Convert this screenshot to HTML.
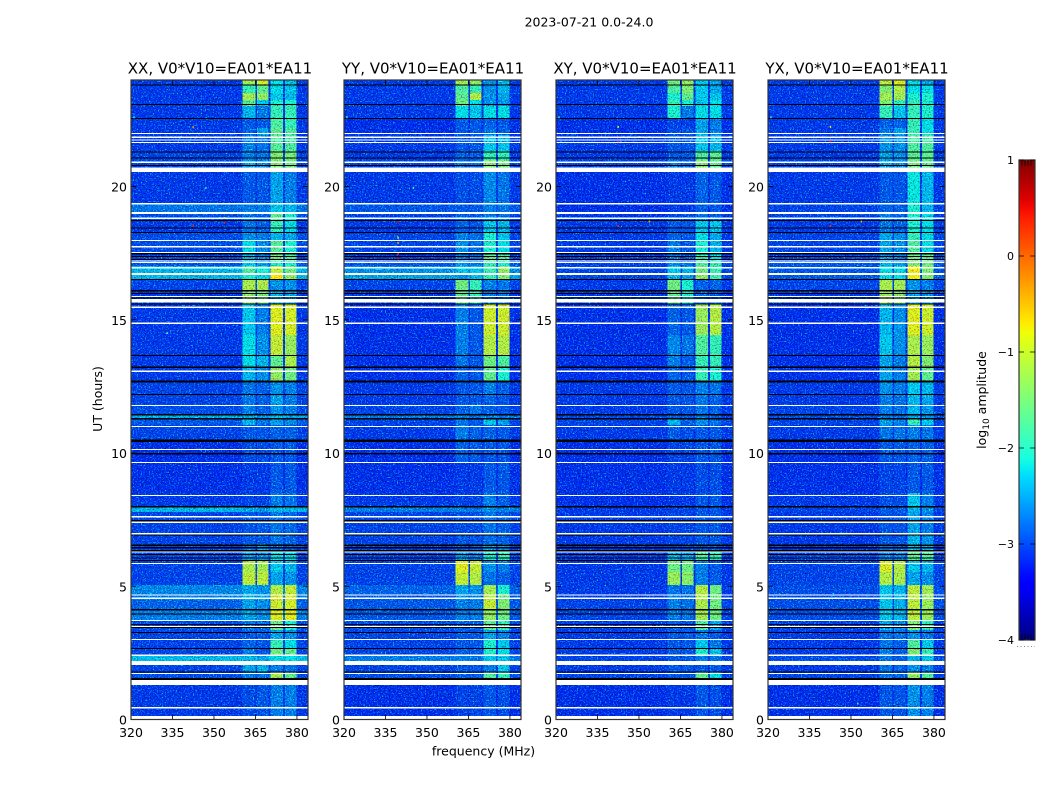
<!DOCTYPE html>
<html lang="en">
<head>
<meta charset="utf-8">
<title>2023-07-21 0.0-24.0</title>
<style>
html,body{margin:0;padding:0;background:#fff;}
body{width:1050px;height:800px;overflow:hidden;}
svg{display:block;}
text{font-family:"DejaVu Sans","Liberation Sans",sans-serif;fill:#000;}
</style>
</head>
<body>
<svg id="chart" xmlns="http://www.w3.org/2000/svg" width="1050" height="800" viewBox="0 0 1050 800">
<defs>
<filter id="speckle" x="0" y="0" width="1" height="1" color-interpolation-filters="sRGB">
<feTurbulence type="fractalNoise" baseFrequency="0.75" numOctaves="2" seed="4" result="t"/>
<feColorMatrix in="t" type="matrix" values="0 0 0 0 0  2.8 0 0 0 -1.5  0 0 0 0 0  0 0 0 0 1" result="up"/>
<feColorMatrix in="t" type="matrix" values="0 0 0 0 1  0 -2 0 0 2  0 -2 0 0 2  0 0 0 0 1" result="down"/>
<feComposite in="SourceGraphic" in2="up" operator="arithmetic" k1="0" k2="1" k3="1" k4="0" result="a"/>
<feComposite in="a" in2="down" operator="arithmetic" k1="1" k2="0" k3="0" k4="0"/>
</filter>
<linearGradient id="jet-gradient" x1="0" y1="1" x2="0" y2="0"></linearGradient>
</defs>
<rect width="1050" height="800" fill="#fff"/>
<text x="589" y="26.500" font-size="12.500" text-anchor="middle">2023-07-21 0.0-24.0</text>
<text x="220" y="73.500" font-size="15" text-anchor="middle">XX, V0*V10=EA01*EA11</text>
<text x="433" y="73.500" font-size="15" text-anchor="middle">YY, V0*V10=EA01*EA11</text>
<text x="645" y="73.500" font-size="15" text-anchor="middle">XY, V0*V10=EA01*EA11</text>
<text x="857" y="73.500" font-size="15" text-anchor="middle">YX, V0*V10=EA01*EA11</text>
<text x="0" y="0" font-size="12.500" text-anchor="middle" transform="translate(102 399) rotate(-90)">UT (hours)</text>
<text x="483.500" y="755.500" font-size="12.500" text-anchor="middle">frequency (MHz)</text>
<text x="0" y="0" font-size="12.500" text-anchor="middle" transform="translate(986 400) rotate(-90)">log<tspan font-size="9" dy="3">10</tspan><tspan dy="-3"> amplitude</tspan></text>
<g id="panels"></g>
<g id="colorbar"></g>
</svg>
<script>
// ---- axis tick data ----
const freqTicks = [320, 335, 350, 365, 380];
const hourTicks = [0, 5, 10, 15, 20];
const colorbarTicks = [1, 0, -1, -2, -3, -4];
const colorbarTickLabels = ['1', '0', '\u22121', '\u22122', '\u22123', '\u22124'];
const colorbarMinorValues = [-3.9, -3.8, -3.7, -3.6, 0.6, 0.7, 0.8, 0.9];

// ---- frequency columns: background, four RFI bands with gaps (MHz) ----
const channelEdges = [320, 360.4, 365.1, 365.5, 369.8, 370.5, 374.9, 375.6, 379.9, 384];
const channelLevelColumn = [0, 1, 0, 2, 0, 3, 0, 4, 0];

// ---- time segments: top hour of each segment (last one is the end hour) ----
const segmentHours = [24.00,23.81,23.51,23.25,23.02,22.57,22.20,21.93,21.33,21.00,20.54,19.38,19.01,18.74,18.29,17.99,17.54,17.20,17.02,16.72,16.53,16.12,15.59,14.43,13.68,13.23,12.70,12.14,11.84,11.46,11.27,11.05,10.49,9.62,8.50,7.97,7.79,7.00,6.59,6.32,5.98,5.53,5.05,4.71,4.48,4.11,3.73,3.36,2.98,2.68,2.42,2.20,1.78,1.56,0.14];

// ---- log10 amplitude per segment: [background, band A, band B, band C, band D] ----
const xxLevels = [
[-3.15,-1.3,-1.0,-2.25,-2.4],[-3.15,-1.95,-1.7,-2.25,-2.4],[-3.15,-1.3,-1.4,-2.4,-2.5],[-3.15,-1.7,-2.4,-2.1,-2.1],[-3.15,-2.5,-2.8,-1.95,-1.95],[-3.15,-3.0,-3.0,-1.8,-1.95],
[-3.15,-2.95,-2.6,-1.7,-1.8],[-3.15,-2.8,-2.85,-1.75,-1.8],[-3.1,-2.8,-2.85,-1.5,-1.55],[-3.1,-2.6,-2.7,-1.5,-1.6],[-3.15,-3.0,-3.0,-2.6,-2.8],[-2.85,-2.8,-2.8,-2.4,-2.5],
[-3.05,-2.85,-2.95,-1.7,-2.1],[-3.15,-2.85,-2.95,-1.95,-2.25],[-3.05,-2.7,-2.8,-2.5,-2.6],[-3.05,-2.25,-2.7,-1.75,-2.1],[-3.1,-2.5,-2.8,-1.6,-1.8],[-3.0,-2.4,-2.6,-2.1,-2.1],
[-2.5,-1.8,-2.1,-1.1,-1.6],[-2.5,-2.1,-2.25,-0.75,-1.4],[-3.1,-1.25,-1.25,-2.7,-2.7],[-3.15,-1.45,-1.55,-2.5,-2.6],[-3.15,-2.4,-2.8,-0.95,-1.0],[-3.15,-2.25,-2.7,-1.1,-1.35],
[-3.15,-2.25,-2.5,-1.7,-1.25],[-3.15,-2.5,-2.7,-1.4,-1.6],[-3.1,-2.85,-2.95,-2.7,-2.8],[-3.1,-2.85,-2.95,-2.6,-2.8],[-3.05,-2.8,-2.95,-2.7,-2.8],[-2.55,-2.6,-2.7,-2.5,-2.6],
[-3.0,-2.5,-2.85,-2.6,-2.7],[-3.1,-3.0,-3.0,-2.95,-2.95],[-3.2,-3.05,-3.05,-3.0,-3.0],[-3.2,-3.15,-3.15,-3.0,-3.0],[-3.15,-3.1,-3.1,-2.8,-2.85],[-2.5,-2.6,-2.7,-2.5,-2.5],
[-3.1,-3.0,-3.0,-2.85,-2.9],[-3.1,-3.0,-3.0,-2.85,-2.95],[-3.1,-2.85,-2.6,-2.85,-2.95],[-3.1,-2.7,-2.7,-2.25,-2.25],[-3.1,-1.25,-1.3,-2.4,-2.5],[-3.1,-1.15,-1.15,-2.6,-2.7],
[-2.75,-2.6,-2.7,-1.2,-1.1],[-2.8,-2.5,-2.6,-1.0,-1.0],[-2.95,-2.6,-2.7,-1.05,-1.0],[-2.8,-2.6,-2.7,-0.95,-0.9],[-3.05,-2.8,-2.85,-1.6,-2.1],[-3.1,-3.0,-3.0,-2.6,-2.7],
[-3.1,-2.95,-3.0,-1.95,-2.25],[-3.1,-2.8,-3.0,-1.6,-1.7],[-2.45,-2.5,-2.6,-2.25,-2.25],[-3.1,-2.6,-2.5,-2.8,-2.85],[-3.05,-2.8,-2.85,-1.3,-1.7],[-3.15,-3.05,-3.0,-2.8,-2.8]
];
const yyLevels = [
[-3.15,-1.3,-1.4,-2.7,-2.5],[-3.15,-1.8,-1.95,-2.7,-2.5],[-3.15,-1.7,-1.2,-2.7,-2.6],[-3.15,-1.6,-2.25,-2.7,-2.7],[-3.15,-2.25,-2.4,-2.25,-2.25],[-3.2,-3.0,-3.0,-2.95,-3.0],
[-3.2,-3.0,-3.0,-2.85,-2.95],[-3.15,-3.0,-3.0,-2.4,-2.4],[-3.15,-2.95,-3.0,-1.95,-1.95],[-3.1,-2.85,-2.85,-1.5,-1.6],[-3.15,-3.05,-3.05,-2.75,-2.85],[-3.0,-3.0,-3.0,-2.8,-2.85],
[-3.1,-2.95,-3.0,-2.8,-2.85],[-3.15,-2.95,-3.0,-2.4,-2.5],[-3.1,-2.8,-2.85,-2.1,-2.4],[-3.1,-2.7,-2.85,-2.1,-2.25],[-3.15,-2.8,-2.85,-1.7,-1.8],[-3.0,-2.7,-2.8,-1.95,-2.1],
[-2.7,-2.4,-2.4,-1.9,-1.4],[-2.6,-2.7,-2.5,-1.95,-1.5],[-3.1,-1.6,-1.95,-2.8,-2.85],[-3.15,-1.7,-1.95,-2.8,-2.85],[-3.2,-2.8,-3.0,-1.05,-1.05],[-3.2,-2.8,-3.0,-1.2,-1.2],
[-3.2,-2.85,-3.0,-1.6,-1.8],[-3.2,-2.95,-3.0,-1.7,-2.1],[-3.15,-3.0,-3.0,-2.8,-2.95],[-3.15,-3.0,-3.0,-2.95,-3.0],[-3.1,-2.95,-2.85,-2.95,-3.0],[-2.8,-2.8,-2.85,-2.8,-2.85],
[-3.1,-2.85,-3.0,-2.4,-2.6],[-3.15,-2.8,-2.95,-2.95,-3.0],[-3.2,-2.95,-3.0,-3.0,-3.0],[-3.2,-3.15,-3.15,-3.0,-3.0],[-3.15,-3.1,-3.1,-2.8,-2.95],[-2.8,-2.8,-2.85,-2.7,-2.8],
[-3.1,-3.05,-3.05,-2.85,-2.95],[-3.1,-3.0,-3.0,-2.9,-2.95],[-3.1,-3.0,-2.95,-2.6,-2.7],[-3.1,-2.7,-2.8,-2.1,-1.95],[-3.1,-0.95,-1.1,-2.7,-2.8],[-3.1,-1.1,-1.2,-2.85,-2.95],
[-2.95,-2.6,-2.7,-1.3,-2.1],[-3.0,-2.7,-2.7,-1.15,-1.6],[-3.0,-2.8,-2.8,-1.1,-1.5],[-3.0,-2.8,-2.8,-1.4,-1.6],[-3.05,-2.95,-2.95,-1.7,-1.95],[-3.1,-3.0,-3.0,-2.6,-2.8],
[-3.1,-3.0,-3.0,-2.1,-2.4],[-3.1,-2.95,-3.0,-2.1,-2.25],[-2.8,-2.8,-2.85,-2.4,-2.4],[-3.1,-3.0,-3.0,-2.8,-2.4],[-3.05,-3.0,-3.0,-1.8,-1.95],[-3.2,-3.1,-3.1,-3.0,-3.05]
];
const xyLevels = [
[-3.15,-1.6,-1.4,-2.4,-2.6],[-3.15,-1.8,-1.5,-2.4,-2.6],[-3.15,-2.1,-1.7,-2.4,-2.4],[-3.15,-1.95,-2.1,-2.4,-2.25],[-3.15,-2.1,-2.8,-2.25,-2.25],[-3.2,-3.1,-3.1,-2.6,-2.8],
[-3.2,-3.05,-3.0,-2.6,-2.8],[-3.15,-3.0,-3.0,-2.4,-2.5],[-3.15,-3.0,-3.0,-1.8,-1.7],[-3.1,-2.8,-2.95,-1.5,-1.7],[-3.2,-3.15,-3.15,-2.95,-3.0],[-3.2,-3.15,-3.15,-2.95,-3.0],
[-3.15,-3.05,-3.05,-2.85,-2.95],[-3.15,-3.0,-3.0,-2.4,-2.4],[-3.15,-2.95,-3.0,-2.25,-2.6],[-3.15,-2.8,-3.0,-2.1,-2.5],[-3.15,-2.85,-3.0,-1.95,-2.25],[-3.1,-2.7,-2.85,-1.8,-1.95],
[-3.1,-2.4,-2.5,-1.6,-1.9],[-3.1,-2.5,-2.6,-1.4,-1.9],[-3.15,-1.6,-2.1,-2.95,-2.95],[-3.15,-1.7,-2.1,-2.95,-3.0],[-3.2,-2.95,-3.0,-1.35,-1.2],[-3.2,-2.75,-2.85,-1.8,-1.95],
[-3.2,-2.8,-2.95,-1.95,-1.95],[-3.2,-2.95,-3.0,-1.95,-2.1],[-3.15,-3.0,-3.0,-2.8,-2.85],[-3.15,-3.0,-3.0,-2.85,-2.95],[-3.15,-3.0,-3.0,-2.85,-2.95],[-3.1,-2.95,-3.0,-2.85,-2.95],
[-3.1,-2.5,-2.95,-2.7,-2.85],[-3.15,-3.0,-3.05,-3.0,-3.0],[-3.2,-3.1,-3.1,-3.0,-3.0],[-3.2,-3.15,-3.15,-3.05,-3.05],[-3.2,-3.15,-3.15,-3.0,-3.0],[-3.15,-3.1,-3.1,-3.0,-3.0],
[-3.15,-3.1,-3.1,-3.0,-3.0],[-3.15,-3.1,-3.1,-3.0,-3.0],[-3.15,-3.05,-3.05,-3.0,-3.0],[-3.15,-2.5,-2.6,-1.8,-1.95],[-3.15,-1.6,-1.6,-2.8,-3.0],[-3.15,-1.35,-1.45,-2.8,-3.0],
[-3.15,-2.85,-2.85,-1.2,-1.6],[-3.15,-2.8,-2.85,-1.2,-1.6],[-3.1,-2.8,-2.85,-1.25,-1.6],[-3.1,-2.8,-2.85,-1.3,-1.6],[-3.1,-2.95,-3.0,-1.8,-2.6],[-3.15,-3.0,-3.0,-2.85,-3.0],
[-3.15,-3.0,-3.0,-2.4,-2.8],[-3.15,-3.0,-3.0,-2.1,-2.4],[-3.1,-3.0,-3.0,-2.8,-2.85],[-3.15,-3.0,-3.0,-3.0,-3.0],[-3.1,-3.0,-3.0,-1.7,-2.25],[-3.2,-3.15,-3.15,-3.0,-3.05]
];
const yxLevels = [
[-3.15,-1.15,-0.95,-2.25,-2.6],[-3.15,-1.5,-1.2,-2.25,-2.25],[-3.15,-1.3,-1.3,-2.1,-2.1],[-3.15,-1.5,-1.95,-1.95,-2.1],[-3.15,-1.95,-2.4,-1.95,-2.1],[-3.15,-2.95,-2.95,-1.95,-2.25],
[-3.15,-2.85,-2.6,-1.95,-2.25],[-3.15,-2.7,-2.7,-1.8,-1.8],[-3.15,-2.6,-2.7,-1.7,-1.7],[-3.1,-2.6,-2.7,-1.6,-1.7],[-3.15,-3.0,-3.0,-2.2,-2.5],[-3.1,-2.95,-2.95,-2.1,-2.5],
[-3.1,-2.85,-2.95,-2.1,-2.25],[-3.15,-2.85,-2.95,-2.1,-2.25],[-3.1,-2.6,-2.7,-1.95,-2.25],[-3.1,-2.6,-2.7,-1.8,-2.25],[-3.1,-2.7,-2.8,-1.6,-1.7],[-3.0,-2.5,-2.6,-1.5,-1.6],
[-3.0,-2.25,-2.25,-0.85,-1.5],[-3.0,-2.25,-2.25,-0.85,-1.5],[-3.1,-1.25,-1.3,-2.7,-2.8],[-3.15,-1.35,-1.45,-2.6,-2.7],[-3.2,-2.5,-2.7,-0.95,-1.05],[-3.2,-2.4,-2.7,-1.25,-1.35],
[-3.2,-2.6,-2.8,-1.2,-1.5],[-3.2,-2.6,-2.8,-1.3,-1.7],[-3.15,-2.7,-2.8,-2.4,-2.5],[-3.15,-2.8,-2.85,-2.5,-2.6],[-3.1,-2.8,-2.85,-2.5,-2.7],[-3.05,-2.8,-2.85,-2.6,-2.7],
[-3.1,-2.6,-2.8,-1.95,-2.4],[-3.15,-2.85,-2.85,-2.8,-2.85],[-3.2,-3.0,-3.0,-2.95,-2.95],[-3.2,-3.1,-3.1,-3.0,-3.0],[-3.15,-3.05,-3.05,-2.4,-2.8],[-3.1,-3.0,-3.0,-2.5,-2.7],
[-3.15,-3.0,-3.0,-2.6,-2.8],[-3.15,-3.0,-3.0,-2.5,-2.7],[-3.15,-2.85,-2.95,-2.4,-2.5],[-3.1,-2.8,-2.8,-1.7,-1.8],[-3.1,-1.0,-1.2,-2.4,-2.5],[-3.1,-1.2,-1.25,-2.6,-2.7],
[-3.05,-2.4,-2.5,-1.15,-1.3],[-3.05,-2.4,-2.5,-1.15,-1.35],[-3.05,-2.4,-2.5,-1.15,-1.35],[-3.05,-2.4,-2.5,-1.15,-1.35],[-3.1,-2.6,-2.7,-1.5,-1.95],[-3.15,-2.85,-2.85,-2.7,-2.85],
[-3.15,-2.85,-2.95,-1.8,-2.4],[-3.15,-2.8,-2.95,-1.5,-1.95],[-3.05,-2.85,-2.95,-2.5,-2.4],[-3.15,-2.85,-2.95,-2.7,-2.8],[-3.1,-2.85,-2.95,-1.4,-1.8],[-3.2,-3.0,-3.0,-2.7,-2.8]
];

// ---- flagged time ranges, common to every panel: [start hour, end hour] ----
const blackFlags = [[23.79,23.83],[23.06,23.10],[22.53,22.57],[21.28,21.32],[21.06,21.10],[20.77,20.81],[18.72,18.75],[18.44,18.47],[18.27,18.30],[17.45,17.50],[17.35,17.39],[17.24,17.28],[16.49,16.53],[16.07,16.11],[15.97,16.00],[15.80,15.84],[15.57,15.62],[13.64,13.68],[13.20,13.25],[12.65,12.72],[12.18,12.21],[11.41,11.46],[11.26,11.31],[10.42,10.50],[9.94,10.01],[7.96,8.01],[7.44,7.48],[6.90,6.94],[6.52,6.57],[6.42,6.47],[6.31,6.36],[6.18,6.22],[6.04,6.08],[5.95,5.98],[4.10,4.14],[3.94,3.98],[3.54,3.58],[3.43,3.47],[3.25,3.29],[2.65,2.68],[1.76,1.80],[1.48,1.56]];
const whiteFlags = [[21.97,22.02],[21.83,21.88],[21.73,21.77],[21.64,21.68],[20.88,20.94],[20.54,20.71],[19.32,19.38],[18.97,19.04],[18.78,18.84],[17.96,17.99],[17.72,17.77],[17.51,17.55],[17.19,17.22],[17.13,17.17],[16.92,16.98],[16.68,16.75],[15.85,15.89],[15.65,15.78],[15.44,15.50],[14.84,14.89],[13.04,13.09],[11.76,11.81],[10.98,11.02],[10.11,10.15],[9.62,9.67],[8.39,8.42],[7.59,7.64],[7.38,7.43],[6.95,6.99],[6.26,6.30],[5.83,5.88],[4.66,4.70],[4.52,4.57],[3.70,3.74],[3.47,3.51],[2.98,3.03],[2.39,2.44],[2.05,2.20],[1.71,1.75],[1.30,1.48],[0.41,0.46],[0,0.14]];

// ---- isolated hot channels per panel: [MHz, hour, log10 amplitude] ----
const xxHotPixels = [[342.4,22.23,-0.3],[353.7,18.64,0.4],[353.7,18.82,-0.8],[342.4,18.52,0.3],[321,22.6,-1.9],[347,19.95,-1.9],[333,14.5,-1.9]];
const yyHotPixels = [[339.5,18.67,0.5],[339.5,18.08,-0.8],[339.5,17.88,-0.3],[339.5,17.47,0.4],[339.5,17.3,0.5],[321,22.6,-1.9],[345,19.95,-1.9]];
const xyHotPixels = [[342.4,22.24,-0.8],[342.4,18.52,0.3],[353.7,18.69,-0.3],[321,22.6,-1.9],[342.4,21.7,0.3]];
const yxHotPixels = [[342.5,22.24,-0.7],[342.5,18.52,0.3],[353.7,18.69,-0.3],[321,22.6,-1.9],[342.5,21.7,0.3],[352.4,0.6,-1.9]];

const panelNames = ['xx', 'yy', 'xy', 'yx'];
const panelLevels = [xxLevels, yyLevels, xyLevels, yxLevels];
const panelHotPixels = [xxHotPixels, yyHotPixels, xyHotPixels, yxHotPixels];

// ---- layout and scales ----
const NS = 'http://www.w3.org/2000/svg';
const panelLeft = [131, 344, 556, 768];
const panelWidth = 177, plotTop = 80, plotBottom = 719.5;
const freqMin = 320, freqMax = 384, hourMax = 24;
function xScale(p, f) { return panelLeft[p] + (f - freqMin) * panelWidth / (freqMax - freqMin); }
function yScale(h) { return plotBottom - h * (plotBottom - plotTop) / hourMax; }
const cbLeft = 1019, cbRight = 1035, cbTop = 160, cbBottom = 640;
function cbScale(v) { return cbBottom - (v + 4) * (cbBottom - cbTop) / 5; }

function interp(t, pts) {
  for (let i = 1; i < pts.length; i++) {
    if (t <= pts[i][0]) {
      const a = pts[i - 1], b = pts[i];
      return a[1] + (b[1] - a[1]) * (t - a[0]) / (b[0] - a[0]);
    }
  }
  return pts[pts.length - 1][1];
}
const jetR = [[0,0],[0.35,0],[0.66,1],[0.89,1],[1,0.5]];
const jetG = [[0,0],[0.125,0],[0.375,1],[0.64,1],[0.91,0],[1,0]];
const jetB = [[0,0.5],[0.11,1],[0.34,1],[0.65,0],[1,0]];
function jet(v) {
  const t = Math.max(0, Math.min(1, (v + 4) / 5));
  const c = [jetR, jetG, jetB].map(p => Math.round(255 * interp(t, p)));
  return 'rgb(' + c.join(',') + ')';
}
function svgEl(parent, tag, attrs) {
  const el = document.createElementNS(NS, tag);
  for (const k in attrs) el.setAttribute(k, attrs[k]);
  parent.appendChild(el);
  return el;
}

const panelsRoot = document.getElementById('panels');
panelNames.forEach(function (name, p) {
  const g = svgEl(panelsRoot, 'g', {});
  
  

  const cells = svgEl(g, 'g', { filter: 'url(#speckle)', 'shape-rendering': 'crispEdges' });
  
  
  const levels = panelLevels[p];
  levels.forEach(function (row, s) {
    const y0 = yScale(segmentHours[s]), y1 = yScale(segmentHours[s + 1]);
    channelLevelColumn.forEach(function (col, c) {
      const x0 = xScale(p, channelEdges[c]), x1 = xScale(p, channelEdges[c + 1]);
      const cell = svgEl(cells, 'rect', { x: x0, y: y0, width: x1 - x0, height: y1 - y0, fill: jet(row[col]) });
      
      
    });
  });

  const flags = svgEl(g, 'g', { 'shape-rendering': 'crispEdges' });
  
  
  [[blackFlags, '#000'], [whiteFlags, '#fff']].forEach(function (set) {
    set[0].forEach(function (r) {
      const band = svgEl(flags, 'rect', {
        x: xScale(p, freqMin), y: yScale(r[1]),
        width: panelWidth, height: Math.max(1, yScale(r[0]) - yScale(r[1])), fill: set[1]
      });
      
      
    });
  });

  panelHotPixels[p].forEach(function (h) {
    const dot = svgEl(g, 'rect', { x: xScale(p, h[0]) - 0.5, y: yScale(h[1]) - 1, width: 1.4, height: 2, fill: jet(h[2]) });
    
    
  });

  const x0 = xScale(p, freqMin), x1 = xScale(p, freqMax), yT = yScale(hourMax), yB = yScale(0);
  freqTicks.forEach(function (f) {
    const x = xScale(p, f);
    const t1 = svgEl(g, 'path', { d: 'M' + x + ' ' + yB + 'V' + (yB - 5) + 'M' + x + ' ' + yT + 'V' + (yT + 5), stroke: '#000', 'stroke-width': 0.8, fill: 'none' });
    
    
    const lab = svgEl(g, 'text', { x: x, y: 737, 'font-size': 12.5, 'text-anchor': 'middle' });
    lab.textContent = String(f);
    
    
  });
  hourTicks.forEach(function (h) {
    const y = yScale(h);
    const t2 = svgEl(g, 'path', { d: 'M' + x0 + ' ' + y + 'H' + (x0 + 5) + 'M' + x1 + ' ' + y + 'H' + (x1 - 5), stroke: '#000', 'stroke-width': 0.8, fill: 'none' });
    
    
    const lab = svgEl(g, 'text', { x: x0 - 4, y: y + 5, 'font-size': 12.5, 'text-anchor': 'end' });
    lab.textContent = String(h);
    
    
  });
  const frame = svgEl(g, 'rect', { x: x0, y: yT, width: x1 - x0, height: yB - yT, fill: 'none', stroke: '#333', 'stroke-width': 1.2 });
  
  
});

// ---- colorbar ----
const grad = document.getElementById('jet-gradient');
for (let i = 0; i <= 50; i++) {
  svgEl(grad, 'stop', { offset: (i / 50), 'stop-color': jet(-4 + i / 10) });
}
const cb = document.getElementById('colorbar');
const cbRect = svgEl(cb, 'rect', { x: cbLeft, y: cbTop, width: cbRight - cbLeft, height: cbBottom - cbTop, fill: 'url(#jet-gradient)', stroke: '#333', 'stroke-width': 1.2 });


colorbarTicks.forEach(function (v, i) {
  const y = cbScale(v);
  const tick = svgEl(cb, 'path', { d: 'M' + cbLeft + ' ' + y + 'H' + (cbLeft + 5) + 'M' + cbRight + ' ' + y + 'H' + (cbRight - 5), stroke: '#000', 'stroke-width': 0.8, fill: 'none' });
  
  
  const lab = svgEl(cb, 'text', { x: 1014, y: y + 4, 'font-size': 11, 'text-anchor': 'end' });
  lab.textContent = colorbarTickLabels[i];
  
  
});
colorbarMinorValues.forEach(function (v) {
  const x = v < 0 ? cbLeft + 3 + (v + 3.9) * 30 : cbLeft + 3 + (v - 0.6) * 30;
  const m = svgEl(cb, 'path', { d: v < 0 ? 'M' + x + ' ' + cbBottom + 'V' + (cbBottom - 6) : 'M' + x + ' ' + cbTop + 'V' + (cbTop + 6), stroke: '#000', 'stroke-width': 0.7, fill: 'none' });
  
  
});
const dots = svgEl(cb, 'path', { d: 'M1017 646.500H1035', stroke: '#888', 'stroke-width': 1, 'stroke-dasharray': '1 2.500', fill: 'none' });


</script>
</body>
</html>
